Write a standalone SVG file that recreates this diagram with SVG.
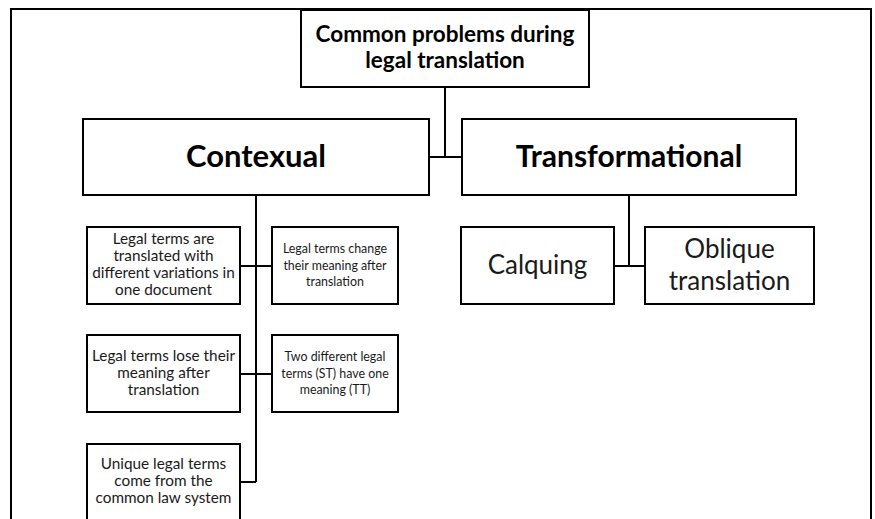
<svg xmlns="http://www.w3.org/2000/svg" width="875" height="519" viewBox="0 0 875 519">
<style>
.box{fill:#fff;stroke:#000;stroke-width:2}
.ln{stroke:#000;stroke-width:2;fill:none}
text{font-family:Lato,"Liberation Sans",sans-serif;fill:#1a1a1a;text-anchor:middle}
.t1{font-size:22.5px;font-weight:bold;fill:#000}
.t2{font-size:31px;font-weight:bold;fill:#000}
.t2b{font-size:30px;font-weight:bold;fill:#000}
.t3{font-size:15.3px}
.t3s{font-size:12.4px}
.t4{font-size:26px}
</style>
<rect width="875" height="519" fill="#fff"/>
<path class="ln" d="M11,519 V9 H871 V519"/>
<g id="connectors">
<path class="ln" d="M445,87 V157 M429,157 H462"/>
<path class="ln" d="M256,195 V482 M240,266 H272 M240,374 H272 M240,482 H256"/>
<path class="ln" d="M629,195 V266 M614,266 H645"/>
</g>
<g id="root">
<rect class="box" x="301" y="10" width="288" height="77"/>
<text class="t1" x="445" y="42">Common problems during</text>
<text class="t1" x="445" y="68">legal translation</text>
</g>
<g id="contexual">
<rect class="box" x="83" y="119" width="346" height="76"/>
<text class="t2" x="256" y="167">Contexual</text>
</g>
<g id="transformational">
<rect class="box" x="462" y="119" width="334" height="76"/>
<text class="t2b" x="629" y="167">Transformational</text>
</g>
<g id="variations">
<rect class="box" x="87" y="227" width="153" height="77"/>
<text class="t3" x="163.5" y="244">Legal terms are</text>
<text class="t3" x="163.5" y="261">translated with</text>
<text class="t3" x="163.5" y="278">different variations in</text>
<text class="t3" x="163.5" y="295">one document</text>
</g>
<g id="change">
<rect class="box" x="272" y="227" width="126" height="77"/>
<text class="t3s" x="335" y="253">Legal terms change</text>
<text class="t3s" x="335" y="269.5">their meaning after</text>
<text class="t3s" x="335" y="286">translation</text>
</g>
<g id="lose">
<rect class="box" x="87" y="335" width="153" height="77"/>
<text class="t3" x="163.5" y="361">Legal terms lose their</text>
<text class="t3" x="163.5" y="378">meaning after</text>
<text class="t3" x="163.5" y="395">translation</text>
</g>
<g id="two">
<rect class="box" x="272" y="335" width="126" height="77"/>
<text class="t3s" x="335" y="361">Two different legal</text>
<text class="t3s" x="335" y="377.5">terms (ST) have one</text>
<text class="t3s" x="335" y="394">meaning (TT)</text>
</g>
<g id="unique">
<rect class="box" x="87" y="444" width="153" height="84"/>
<text class="t3" x="163.5" y="469">Unique legal terms</text>
<text class="t3" x="163.5" y="486">come from the</text>
<text class="t3" x="163.5" y="503">common law system</text>
</g>
<g id="calquing">
<rect class="box" x="461" y="227" width="153" height="77"/>
<text class="t4" x="537.5" y="274">Calquing</text>
</g>
<g id="oblique">
<rect class="box" x="645" y="227" width="169" height="77"/>
<text class="t4" x="729.5" y="258">Oblique</text>
<text class="t4" x="729.5" y="290">translation</text>
</g>
</svg>
